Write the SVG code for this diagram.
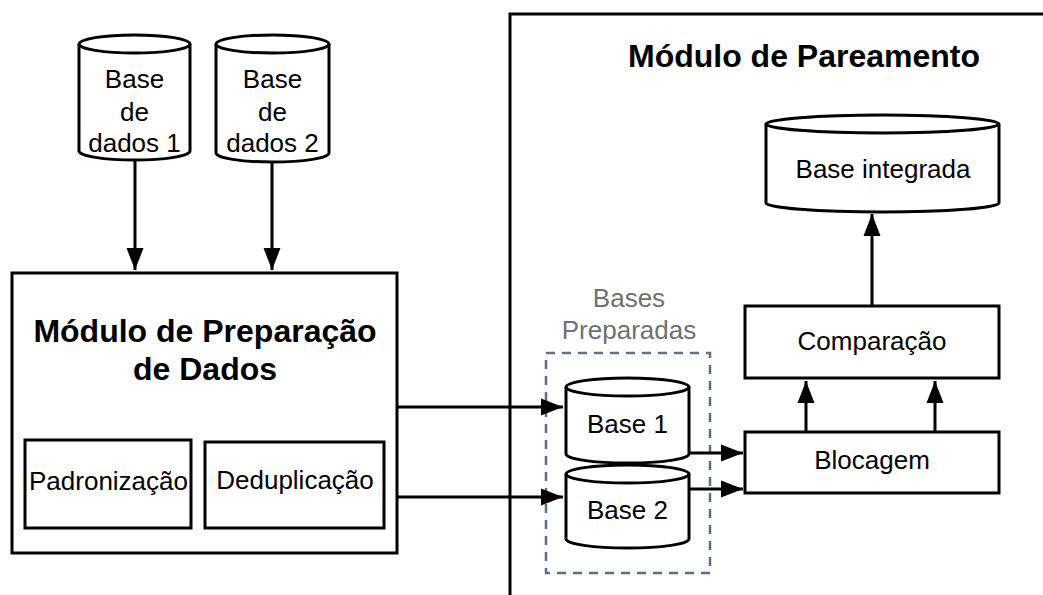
<svg xmlns="http://www.w3.org/2000/svg" width="1043" height="595" viewBox="0 0 1043 595">
<defs>
<style>
.s{fill:#fff;stroke:#000;stroke-width:3}
.n{fill:none;stroke:#000;stroke-width:3}
.t{font-family:"Liberation Sans",Arial,sans-serif;font-size:26px;fill:#000;text-anchor:middle}
.b{font-family:"Liberation Sans",Arial,sans-serif;font-size:32px;font-weight:bold;fill:#000;text-anchor:middle}
.g{font-family:"Liberation Sans",Arial,sans-serif;font-size:26px;fill:#707070;text-anchor:middle}
.c{fill:none;stroke:#000;stroke-width:3}
</style>
<marker id="ah" markerUnits="userSpaceOnUse" markerWidth="23" markerHeight="18" refX="22" refY="9" orient="auto">
<path d="M0,0.5 L22,9 L0,17.5 Z" fill="#000"/>
</marker>
</defs>
<rect width="1043" height="595" fill="#fff"/>

<g id="modulo-pareamento">
<rect class="s" x="510" y="14" width="600" height="700"/>
<text class="b" x="804" y="67">Módulo de Pareamento</text>
</g>

<g id="bases-preparadas">
<rect x="546" y="353" width="164" height="220" fill="none" stroke="#5d7089" stroke-width="2.5" stroke-dasharray="9 7"/>
<text class="g" x="629" y="307">Bases</text>
<text class="g" x="629" y="339">Preparadas</text>
</g>

<g id="db1">
<path class="s" d="M79,44 A55.5,9 0 0 1 190,44 L190,151 A55.5,9 0 0 1 79,151 Z"/>
<path class="n" d="M79,44 A55.5,9 0 0 0 190,44"/>
<text class="t" x="134.5" y="88">Base</text>
<text class="t" x="134.5" y="121">de</text>
<text class="t" x="134.5" y="152">dados 1</text>
</g>

<g id="db2">
<path class="s" d="M216,44 A56.5,9 0 0 1 329,44 L329,153 A56.5,9 0 0 1 216,153 Z"/>
<path class="n" d="M216,44 A56.5,9 0 0 0 329,44"/>
<text class="t" x="272.5" y="88">Base</text>
<text class="t" x="272.5" y="121">de</text>
<text class="t" x="272.5" y="152">dados 2</text>
</g>

<g id="modulo-preparacao">
<rect class="s" x="12" y="273" width="385" height="280"/>
<text class="b" x="205" y="342">Módulo de Preparação</text>
<text class="b" x="205" y="380">de Dados</text>
</g>

<g id="padronizacao">
<rect class="s" x="25" y="440" width="166" height="88"/>
<text class="t" x="108.5" y="490">Padronização</text>
</g>

<g id="deduplicacao">
<rect class="s" x="205" y="442" width="179" height="86"/>
<text class="t" x="295" y="489">Deduplicação</text>
</g>

<g id="base1">
<path class="s" d="M566,387 A61.5,9 0 0 1 689,387 L689,454 A61.5,9 0 0 1 566,454 Z"/>
<path class="n" d="M566,387 A61.5,9 0 0 0 689,387"/>
<text class="t" x="627.5" y="433">Base 1</text>
</g>

<g id="base2">
<path class="s" d="M566,474 A61.5,9 0 0 1 689,474 L689,539 A61.5,9 0 0 1 566,539 Z"/>
<path class="n" d="M566,474 A61.5,9 0 0 0 689,474"/>
<text class="t" x="627.5" y="519">Base 2</text>
</g>

<g id="base-integrada">
<path class="s" d="M766,124 A116.5,9 0 0 1 999,124 L999,203 A116.5,9 0 0 1 766,203 Z"/>
<path class="n" d="M766,124 A116.5,9 0 0 0 999,124"/>
<text class="t" x="883" y="178">Base integrada</text>
</g>

<g id="comparacao">
<rect class="s" x="745" y="306" width="254" height="72"/>
<text class="t" x="872" y="350">Comparação</text>
</g>

<g id="blocagem">
<rect class="s" x="745" y="432" width="254" height="61"/>
<text class="t" x="872" y="469">Blocagem</text>
</g>

<g id="connectors">
<line class="c" x1="135" y1="160" x2="135" y2="270" marker-end="url(#ah)"/>
<line class="c" x1="272" y1="162" x2="272" y2="270" marker-end="url(#ah)"/>
<line class="c" x1="397" y1="407" x2="563" y2="407" marker-end="url(#ah)"/>
<line class="c" x1="397" y1="497" x2="563" y2="497" marker-end="url(#ah)"/>
<line class="c" x1="689" y1="453" x2="743" y2="453" marker-end="url(#ah)"/>
<line class="c" x1="690" y1="489" x2="743" y2="489" marker-end="url(#ah)"/>
<line class="c" x1="806" y1="432" x2="806" y2="381" marker-end="url(#ah)"/>
<line class="c" x1="935" y1="432" x2="935" y2="381" marker-end="url(#ah)"/>
<line class="c" x1="872" y1="306" x2="872" y2="214" marker-end="url(#ah)"/>
</g>
</svg>
